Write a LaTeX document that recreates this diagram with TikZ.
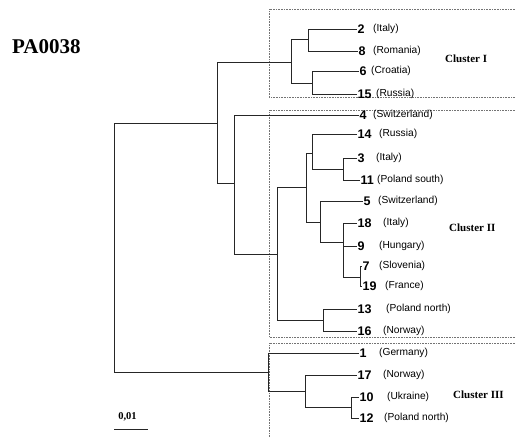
\documentclass[tikz,border=0pt]{standalone}
\usepackage{fontspec}
\setmainfont{Liberation Serif}
\setsansfont{Liberation Sans}
\tikzset{
	branch/.style={draw=black!85, line width=0.8pt},
	clusterbox/.style={draw=black!55, densely dotted, line width=0.6pt},
	leafnum/.style={anchor=west, inner sep=0.5pt, font=\sffamily\bfseries\fontsize{12.5}{12.5}\selectfont},
	country/.style={anchor=west, inner sep=0pt, font=\sffamily\fontsize{10.2}{10.2}\selectfont},
	clustername/.style={anchor=west, inner sep=0pt, font=\bfseries\fontsize{11}{11}\selectfont},
}
\begin{document}
\begin{tikzpicture}[x=1pt, y=-1pt]
	\useasboundingbox (0,0) rectangle (515,437);
	\draw[clusterbox] (515,9) -- (269,9) -- (269,97) -- (515,97);
	\draw[clusterbox] (515,110) -- (269,110) -- (269,337) -- (515,337);
	\draw[clusterbox] (515,343) -- (269,343) -- (269,437);
	\node[anchor=west, inner sep=0pt, font=\bfseries\fontsize{21}{21}\selectfont] (title) at (12,47) {PA0038};
	\node[clustername] (cl1) at (445,59) {Cluster I};
	\node[clustername] (cl2) at (449,228) {Cluster II};
	\node[clustername] (cl3) at (453,395) {Cluster III};
	\coordinate (root) at (114,247);
	\coordinate (B) at (217,123);
	\coordinate (C) at (268,372);
	\coordinate (I) at (291,62);
	\coordinate (I1) at (308,39);
	\coordinate (I2) at (312,83);
	\coordinate (D) at (234,183);
	\coordinate (E) at (277,254);
	\coordinate (F) at (306,187);
	\coordinate (G) at (323,320);
	\coordinate (H) at (312,153);
	\coordinate (J) at (320,222);
	\coordinate (K) at (343,169);
	\coordinate (L) at (343,242);
	\coordinate (M) at (360,277);
	\coordinate (N) at (305,391);
	\coordinate (O) at (351,407);
	\foreach \n/\x/\y/\cx/\c in {2/357/29/373/Italy, 8/358/51/373/Romania, 6/359/71/371/Croatia, 15/357/94/376/Russia,
		4/359/115/373/Switzerland, 14/357/134/379/Russia, 3/357/158/376/Italy, 11/360/180/377/Poland south,
		5/363/201/378/Switzerland, 18/357/223/383/Italy, 9/357/246/379/Hungary, 7/362/266/379/Slovenia,
		19/362/286/385/France, 13/357/309/386/Poland north, 16/357/331/383/Norway, 1/359/353/379/Germany,
		17/357/375/383/Norway, 10/359/397/387/Ukraine, 12/359/418/384/Poland north}
	{
		\node[leafnum] (l\n) at (\x,\y) {\n};
		\node[country] (c\n) at (\cx,\y) {(\c)};
	}
	\foreach \p/\q in {root/B, root/C, B/I, B/D, I/I1, I/I2, I1/l2.west, I1/l8.west, I2/l6.west, I2/l15.west,
		D/l4.west, D/E, E/F, E/G, F/H, F/J, H/l14.west, H/K, K/l3.west, K/l11.west, J/l5.west, J/L,
		L/l18.west, L/l9.west, L/M, M/l7.west, M/l19.west, G/l13.west, G/l16.west,
		C/l1.west, C/N, N/l17.west, N/O, O/l10.west, O/l12.west}
		\draw[branch] (\p) |- (\q);
	\coordinate (s0) at (114,429);
	\coordinate (s1) at (148,429);
	\draw[branch] (s0) -- (s1);
	\node[inner sep=0pt, font=\bfseries\fontsize{10.5}{10.5}\selectfont] (scale) at (127.5,417) {0,01};
\end{tikzpicture}
\end{document}
